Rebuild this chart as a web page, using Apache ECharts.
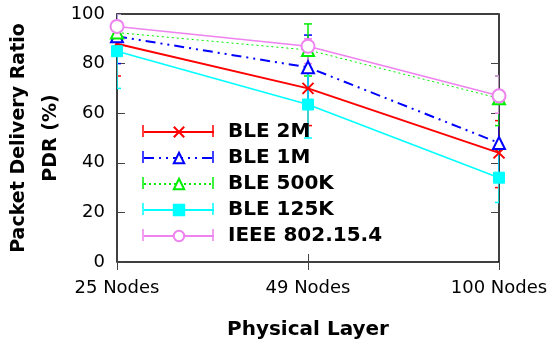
<!DOCTYPE html>
<html><head><meta charset="utf-8">
<script src="https://cdn.jsdelivr.net/npm/echarts@6/dist/echarts.min.js"></script>
<style>html,body{margin:0;padding:0;background:#fff}#c{width:551px;height:347px}</style>
</head><body><div id="c"></div>
<script>
var categories = ['25 Nodes', '49 Nodes', '100 Nodes'];
var seriesNames = ['BLE 2M', 'BLE 1M', 'BLE 500K', 'BLE 125K', 'IEEE 802.15.4'];
var ble2m = [88, 70, 44];
var ble2mLow = [75, 55, 30];
var ble2mHigh = [100, 85, 57];
var ble1m = [91, 78.5, 48];
var ble1mLow = [80, 65, 35];
var ble1mHigh = [100, 91.5, 64];
var ble500k = [92.5, 85.5, 66];
var ble500kLow = [85, 75, 55];
var ble500kHigh = [100, 96, 75];
var ble125k = [85, 63.5, 34];
var ble125kLow = [70, 50, 24];
var ble125kHigh = [100, 77, 45];
var ieee = [95, 87, 67];
var ieeeLow = [90, 80, 60];
var ieeeHigh = [100, 90, 75];
var yTicks = [0, 20, 40, 60, 80, 100];

var FONT = 'DejaVu Sans';
var colors = ['#ff0000', '#0000ff', '#00ee00', '#00ffff', '#ee82ee'];
var values = [ble2m, ble1m, ble500k, ble125k, ieee];
var lows = [ble2mLow, ble1mLow, ble500kLow, ble125kLow, ieeeLow];
var highs = [ble2mHigh, ble1mHigh, ble500kHigh, ble125kHigh, ieeeHigh];
var lineTypes = ['solid', [10, 5, 2, 5, 2, 5], [2, 3], 'solid', 'solid'];
var lineWidths = [2, 2, 1, 1.5, 1.5];
var symbols = ['path://M0,0L10,10M10,0L0,10', 'emptyTriangle', 'emptyTriangle', 'rect', 'emptyCircle'];
var symbolSizes = [11, 12, 12, 11, 13];
var borderWidths = [2, 2.5, 2, 1, 1.5];

var series = [];
seriesNames.forEach(function (name, i) {
  var errData = categories.map(function (c, j) { return [j, lows[i][j], highs[i][j]]; });
  series.push({
    type: 'custom', name: name + '_err', silent: true, z: 2,
    data: errData,
    renderItem: function (params, api) {
      var lo = api.coord([api.value(0), api.value(1)]);
      var hi = api.coord([api.value(0), api.value(2)]);
      var w = 4;
      var st = { stroke: colors[i], lineWidth: 1.5 };
      return { type: 'group', children: [
        { type: 'line', shape: { x1: lo[0], y1: lo[1], x2: hi[0], y2: hi[1] }, style: st },
        { type: 'line', shape: { x1: lo[0] - w, y1: lo[1], x2: lo[0] + w, y2: lo[1] }, style: st },
        { type: 'line', shape: { x1: hi[0] - w, y1: hi[1], x2: hi[0] + w, y2: hi[1] }, style: st }
      ]};
    },
    clip: true
  });
  series.push({
    type: 'line', name: name, data: values[i], z: 3,
    symbol: symbols[i], symbolSize: symbolSizes[i], showAllSymbol: true,
    lineStyle: { color: colors[i], width: lineWidths[i], type: lineTypes[i] },
    itemStyle: { color: colors[i], borderColor: colors[i], borderWidth: borderWidths[i] },
    emphasis: { disabled: true }
  });
});

// legend error-bar caps (decoration next to the legend samples)
var legendLeft = 138, legendTop = 116, rowStep = 26, firstRow = 131, iconX0 = 143, iconX1 = 213;
var capGraphics = [];
seriesNames.forEach(function (name, i) {
  var yc = firstRow + i * rowStep;
  [iconX0, iconX1].forEach(function (x) {
    capGraphics.push({ type: 'line', z: 100, shape: { x1: x, y1: yc - 6, x2: x, y2: yc + 6 },
      style: { stroke: colors[i], lineWidth: 1.5 } });
  });
});

var chart = echarts.init(document.getElementById('c'));
chart.setOption({
  animation: false,
  backgroundColor: '#fff',
  grid: { left: 117, top: 14, right: 52, bottom: 85, show: true, borderColor: '#000', borderWidth: 1.5,
          containLabel: false, outerBoundsMode: 'none' },
  legend: {
    data: seriesNames, orient: 'vertical', left: legendLeft, top: legendTop,
    itemWidth: 70, itemHeight: 13, itemGap: 4,
    textStyle: { fontFamily: FONT, fontWeight: 'bold', fontSize: 20, lineHeight: 22, color: '#000', padding: [0, 0, 0, 9] }
  },
  graphic: capGraphics,
  xAxis: [{
    type: 'category', data: categories, boundaryGap: false,
    axisLine: { show: false }, axisTick: { inside: true, length: 8, lineStyle: { color: '#444' }, alignWithLabel: true },
    axisLabel: { fontFamily: FONT, fontSize: 18, color: '#000', margin: 17 },
    name: 'Physical Layer', nameLocation: 'middle', nameGap: 58,
    nameTextStyle: { fontFamily: FONT, fontWeight: 'bold', fontSize: 20, color: '#000' }
  }, {
    type: 'category', data: categories, boundaryGap: false, position: 'top',
    axisLine: { show: false }, axisLabel: { show: false },
    axisTick: { inside: true, length: 8, lineStyle: { color: '#444' } }
  }],
  yAxis: [{
    type: 'value', min: 0, max: 100, interval: 20,
    splitLine: { show: false }, axisLine: { show: false },
    axisTick: { show: true, inside: true, length: 8, lineStyle: { color: '#444' } },
    axisLabel: { fontFamily: FONT, fontSize: 18, color: '#000', margin: 12 },
    name: 'Packet Delivery Ratio\nPDR (%)', nameLocation: 'middle', nameGap: 50, nameRotate: 90,
    nameMoveOverlap: false,
    nameTextStyle: { fontFamily: FONT, fontWeight: 'bold', fontSize: 19, color: '#000', lineHeight: 32 }
  }, {
    type: 'value', min: 0, max: 100, interval: 20, position: 'right',
    splitLine: { show: false }, axisLine: { show: false }, axisLabel: { show: false },
    axisTick: { show: true, inside: true, length: 8, lineStyle: { color: '#444' } }
  }],
  series: series
});
</script></body></html>
